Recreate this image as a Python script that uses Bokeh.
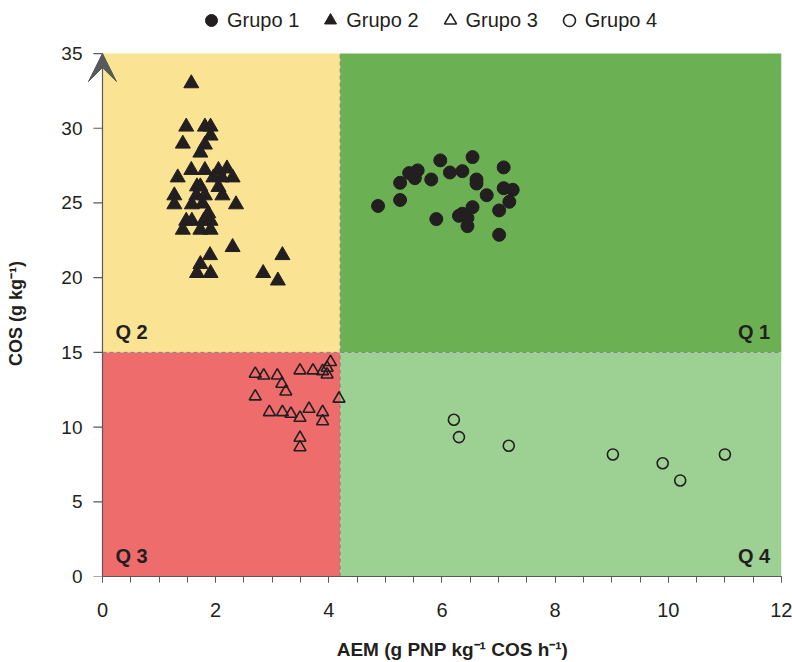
from bokeh.plotting import figure
from bokeh.models import (BoxAnnotation, Label, Legend, LegendItem,
                          FixedTicker, Arrow, VeeHead)
from bokeh.embed import file_html
from bokeh.resources import INLINE

# ---------------- data ----------------
g1_x = [4.87, 5.26, 5.26, 5.42, 5.52, 5.57, 5.81, 5.97, 5.90, 6.14, 6.36, 6.54, 6.61,
        6.61, 6.79, 6.54, 6.36, 6.30, 6.45, 6.45, 7.09, 7.09, 7.25, 7.19, 7.01, 7.01]
g1_y = [24.8, 26.35, 25.2, 27.0, 26.66, 27.18, 26.57, 27.85, 23.92, 27.04, 27.13, 28.07, 26.57,
        26.3, 25.52, 24.72, 24.28, 24.14, 24.0, 23.45, 27.38, 25.99, 25.88, 25.08, 24.5, 22.87]

g2_x = [1.57, 1.48, 1.81, 1.91, 1.91, 1.42, 1.81, 1.73, 1.57, 1.81, 2.05, 2.20, 1.33,
        1.96, 2.11, 2.30, 1.67, 2.05, 1.73, 1.27, 1.66, 1.81, 2.12, 1.27, 1.58, 1.77,
        2.36, 1.87, 1.48, 1.58, 1.79, 1.91, 1.42, 1.73, 1.91, 2.30, 1.90, 1.73, 1.67,
        1.91, 2.84, 3.18, 3.10]
g2_y = [33.0, 30.1, 30.1, 30.1, 29.5, 28.96, 28.9, 28.36, 27.2, 27.2, 27.2, 27.3, 26.7,
        26.7, 26.7, 26.7, 26.1, 26.06, 26.1, 25.5, 25.5, 25.5, 25.5, 24.9, 24.9, 24.95,
        24.9, 24.3, 23.8, 23.8, 23.8, 23.8, 23.2, 23.2, 23.2, 22.04, 21.5, 20.9, 20.3,
        20.3, 20.3, 21.5, 19.8]

g3_x = [2.70, 2.85, 3.09, 3.17, 3.24, 2.70, 3.49, 3.72, 3.89, 3.97, 4.03, 3.97, 4.18,
        2.95, 3.18, 3.33, 3.49, 3.65, 3.89, 3.89, 3.49, 3.49]
g3_y = [13.57, 13.45, 13.45, 12.9, 12.38, 12.05, 13.79, 13.79, 13.74, 13.97, 14.35, 13.52, 11.9,
        11.0, 11.0, 10.89, 10.62, 11.22, 11.0, 10.39, 9.28, 8.65]

g4_x = [6.21, 6.30, 7.18, 9.02, 9.90, 10.21, 11.0]
g4_y = [10.49, 9.33, 8.75, 8.17, 7.58, 6.43, 8.17]

group_labels = ["Grupo 1", "Grupo 2", "Grupo 3", "Grupo 4"]
quadrant_labels = ["Q 1", "Q 2", "Q 3", "Q 4"]
x_title = "AEM (g PNP kg\u207b\u00b9 COS h\u207b\u00b9)"
y_title = "COS (g kg\u207b\u00b9)"

X_MAX = 12
Y_MAX = 35
X_DIV = 4.2     # AEM threshold
Y_DIV = 15      # COS threshold

x_ticks = [0, 2, 4, 6, 8, 10, 12]
x_minor_ticks = [i * 0.5 for i in range(0, 25)]
y_ticks = [0, 5, 10, 15, 20, 25, 30, 35]

# ---------------- style ----------------
FONT = "Liberation Sans"
INK = "#231f20"
AXIS_GRAY = "#58595b"
DASH_GRAY = "#808080"
C_Q1 = "#6bb153"
C_Q2 = "#fbe394"
C_Q3 = "#ef6c6d"
C_Q4 = "#9dd193"
X_PAD = 0.3          # white room left of x = 0 (holds the arrow head)
Y_VIEW_TOP = 38.55   # white room above y = 35 (holds the legend)
Y_TICK_LEN = 0.16    # y tick length in x units
EM = "\u2003"        # em spaces used to nudge the axis titles along their axes
X_TITLE_PAD = EM * 2
Y_TITLE_PAD = EM * 2 + "\u2002\u00a0"

p = figure(width=792, height=662, x_range=(-X_PAD, X_MAX), y_range=(0, Y_VIEW_TOP),
           output_backend="svg", toolbar_location=None,
           min_border_left=85, min_border_right=11, min_border_top=0, min_border_bottom=86)
p.outline_line_color = None
p.xgrid.visible = False
p.ygrid.visible = False
p.background_fill_color = "white"

# quadrant backgrounds
for l, r, b, t, c in [(X_DIV, X_MAX, Y_DIV, Y_MAX, C_Q1), (0, X_DIV, Y_DIV, Y_MAX, C_Q2),
                      (0, X_DIV, 0, Y_DIV, C_Q3), (X_DIV, X_MAX, 0, Y_DIV, C_Q4)]:
    p.add_layout(BoxAnnotation(left=l, right=r, bottom=b, top=t, fill_color=c, fill_alpha=1,
                               line_alpha=0, level="underlay"))

# dashed quadrant dividers
p.segment(x0=[X_DIV, 0], y0=[0, Y_DIV], x1=[X_DIV, X_MAX], y1=[Y_MAX, Y_DIV],
          line_color=DASH_GRAY, line_dash="4 3", line_width=1)

# quadrant labels
qpos = [(X_MAX - 0.2, Y_DIV + 1.34, "right"), (0.23, Y_DIV + 1.34, "left"),
        (0.23, 1.34, "left"), (X_MAX - 0.2, 1.34, "right")]
for txt, (qx, qy, al) in zip(quadrant_labels, qpos):
    p.add_layout(Label(x=qx, y=qy, text=txt, text_align=al, text_baseline="alphabetic",
                       text_font=FONT, text_font_style="bold", text_font_size="20px",
                       text_color=INK))

# y axis line and ticks drawn at x = 0
p.segment(x0=[-Y_TICK_LEN] * len(y_ticks), y0=y_ticks, x1=[0] * len(y_ticks), y1=y_ticks,
          line_color=AXIS_GRAY, line_width=1.2)
p.segment(x0=[0], y0=[0], x1=[0], y1=[Y_MAX], line_color=AXIS_GRAY, line_width=1.2)

# data
r1 = p.scatter(g1_x, g1_y, marker="circle", size=13, fill_color=INK, line_color=INK)
r2 = p.scatter(g2_x, g2_y, marker="triangle", size=15, fill_color=INK, line_color=INK)
r3 = p.scatter(g3_x, g3_y, marker="triangle", size=12, fill_color=None, line_color=INK,
               line_width=1.6)
r4 = p.scatter(g4_x, g4_y, marker="circle", size=11, fill_color=None, line_color=INK,
               line_width=1.6)

legend = Legend(items=[LegendItem(label=group_labels[0], renderers=[r1]),
                       LegendItem(label=group_labels[1], renderers=[r2]),
                       LegendItem(label=group_labels[2], renderers=[r3]),
                       LegendItem(label=group_labels[3], renderers=[r4])],
                orientation="horizontal", location=(111, 541),
                glyph_width=30, glyph_height=30, label_standoff=1, spacing=16,
                padding=0, margin=0, border_line_color=None, background_fill_alpha=0,
                label_text_font=FONT, label_text_font_size="20px", label_text_color=INK)
p.add_layout(legend, "center")

# axes
xa = p.xaxis[0]
xa.ticker = FixedTicker(ticks=x_ticks, minor_ticks=x_minor_ticks)
xa.bounds = (0, X_MAX)
xa.axis_label = X_TITLE_PAD + x_title
ya = p.yaxis[0]
ya.ticker = FixedTicker(ticks=y_ticks)
ya.bounds = (0, Y_MAX)
ya.axis_label = y_title + Y_TITLE_PAD

for ax in (xa, ya):
    ax.major_label_text_font = FONT
    ax.major_label_text_color = INK
    ax.axis_label_text_font = FONT
    ax.axis_label_text_font_style = "bold"
    ax.axis_label_text_color = INK
    ax.major_tick_in = 0
    ax.minor_tick_in = 0

xa.axis_line_color = AXIS_GRAY
xa.axis_line_width = 1.2
xa.major_tick_line_color = AXIS_GRAY
xa.minor_tick_line_color = AXIS_GRAY
xa.major_tick_out = 6
xa.minor_tick_out = 6
xa.major_label_standoff = 20
xa.major_label_text_font_size = "20px"
xa.axis_label_standoff = 19
xa.axis_label_text_font_size = "19px"

ya.axis_line_color = None
ya.major_tick_line_color = None
ya.minor_tick_line_color = None
ya.major_tick_out = 0
ya.minor_tick_out = 0
ya.major_label_standoff = 3
ya.major_label_text_font_size = "19px"
ya.axis_label_standoff = 32
ya.axis_label_text_font_size = "18px"

# arrow head on top of the y axis
p.add_layout(Arrow(end=VeeHead(size=28, fill_color=AXIS_GRAY, line_color=AXIS_GRAY),
                   x_start=0, y_start=Y_MAX - 1, x_end=0, y_end=Y_MAX,
                   line_color=AXIS_GRAY, line_width=1.2))

open("out.html", "w").write(file_html(p, INLINE))
